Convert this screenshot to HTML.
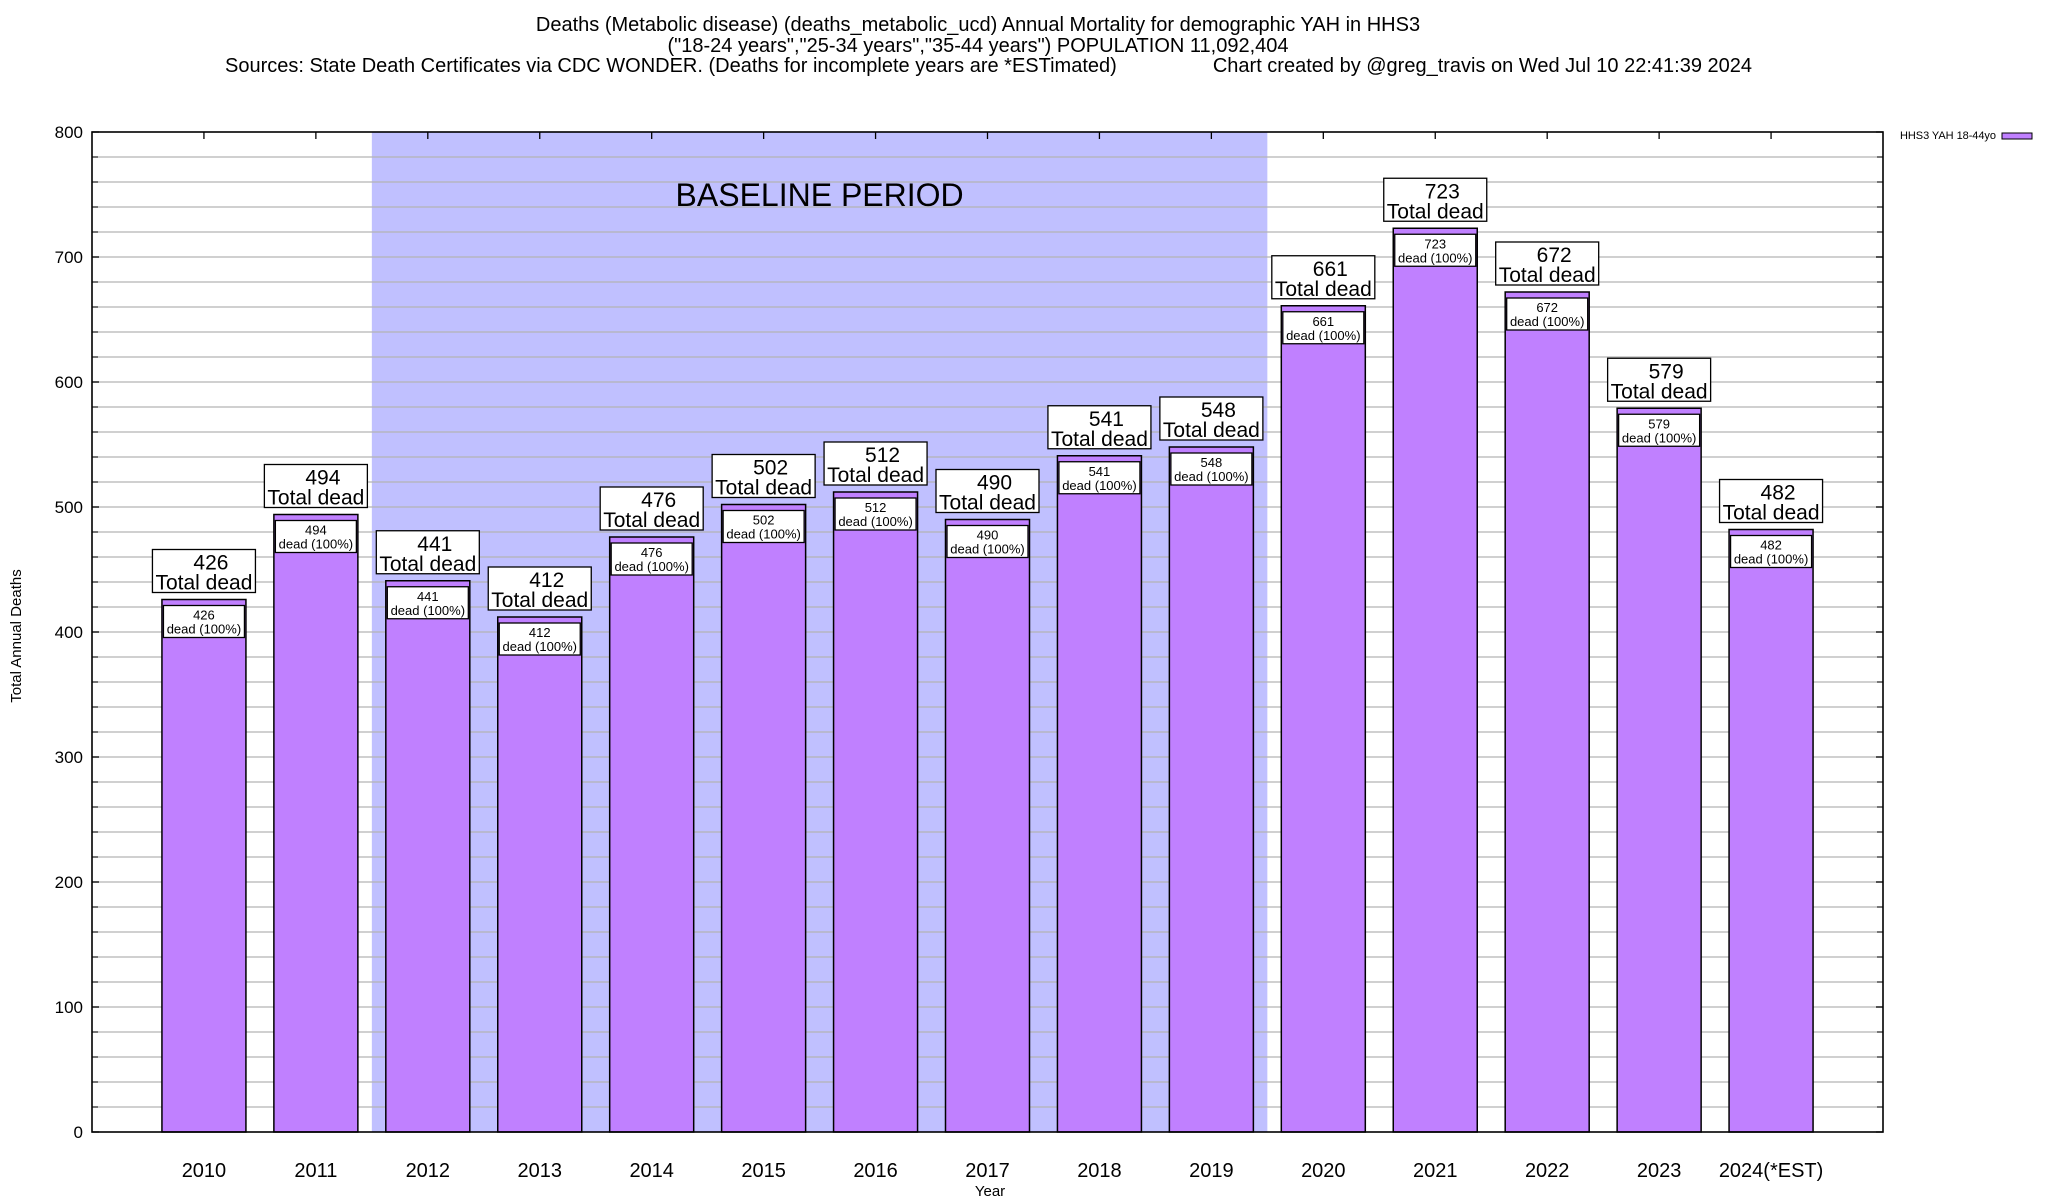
<!DOCTYPE html>
<html><head><meta charset="utf-8"><style>
html,body{margin:0;padding:0;background:#fff;}
svg{display:block;font-family:"Liberation Sans",Arial,sans-serif;}
</style></head><body>
<svg id="chart" width="2048" height="1200" viewBox="0 0 2048 1200" xmlns="http://www.w3.org/2000/svg">
<text x="978" y="31" font-size="20" text-anchor="middle">Deaths (Metabolic disease) (deaths_metabolic_ucd) Annual Mortality for demographic YAH in HHS3</text>
<text x="978" y="52" font-size="20" text-anchor="middle">("18-24 years","25-34 years","35-44 years") POPULATION 11,092,404</text>
<text x="225" y="72" font-size="20">Sources: State Death Certificates via CDC WONDER. (Deaths for incomplete years are *ESTimated)</text>
<text x="1752" y="72" font-size="20" text-anchor="end">Chart created by @greg_travis on Wed Jul 10 22:41:39 2024</text>
<g id="plot"></g>
<text transform="translate(21,636) rotate(-90)" font-size="15" text-anchor="middle">Total Annual Deaths</text>
<text x="990" y="1196" font-size="15" text-anchor="middle">Year</text>
<g>
<text x="1900" y="139" font-size="11" textLength="96">HHS3 YAH 18-44yo</text>
<rect x="2002" y="133" width="30" height="6" fill="#c080ff" stroke="#000" stroke-width="1"/>
</g>
</svg>
<script>
const categories = ["2010","2011","2012","2013","2014","2015","2016","2017","2018","2019","2020","2021","2022","2023","2024(*EST)"];
const values = [426,494,441,412,476,502,512,490,541,548,661,723,672,579,482];
const yTicks = [0,100,200,300,400,500,600,700,800];
const baselineStart = 2;
const baselineEnd = 9;

const NS = "http://www.w3.org/2000/svg";
const L = 92, R = 1883, T = 132, B = 1132;
const yMax = 800;
const xStep = (R - L) / (categories.length + 1);
function xPos(i){ return L + (i + 1) * xStep; }
function yPos(v){ return B - (v / yMax) * (B - T); }
const plot = document.getElementById('plot');
function mk(tag, attrs, parent){
  const e = document.createElementNS(NS, tag);
  for (const k in attrs) e.setAttribute(k, attrs[k]);
  (parent || plot).appendChild(e);
  return e;
}
const band = mk('rect', {x: xPos(baselineStart) - xStep/2, y: T, width: (baselineEnd - baselineStart + 1) * xStep, height: B - T, fill: '#c0c0ff'});


const bt = mk('text', {x: (xPos(baselineStart) - xStep/2 + xPos(baselineEnd) + xStep/2)/2, y: 206, 'font-size': 32, 'text-anchor': 'middle'});
bt.textContent = 'BASELINE PERIOD';


for (let v = 20; v < yMax; v += 20) {
  const g = mk('line', {x1: L, x2: R, y1: yPos(v), y2: yPos(v), stroke: '#b4b4b4', 'stroke-width': 1.3});
  
  
  mk('line', {x1: L, x2: L + 6, y1: yPos(v), y2: yPos(v), stroke: '#000', 'stroke-width': 1});
  mk('line', {x1: R - 6, x2: R, y1: yPos(v), y2: yPos(v), stroke: '#000', 'stroke-width': 1});
}
yTicks.forEach(v => {
  const t = mk('text', {x: 83, y: yPos(v) + 6, 'font-size': 17, 'text-anchor': 'end'});
  t.textContent = v;
  
  
  mk('line', {x1: L, x2: L + 7, y1: yPos(v), y2: yPos(v), stroke: '#000', 'stroke-width': 1.3});
  mk('line', {x1: R - 7, x2: R, y1: yPos(v), y2: yPos(v), stroke: '#000', 'stroke-width': 1.3});
});
const bw = 84;
categories.forEach((c, i) => {
  const cx = xPos(i), v = values[i], top = yPos(v);
  mk('line', {x1: cx, x2: cx, y1: T, y2: T + 7, stroke: '#000', 'stroke-width': 1.3});
  const bar = mk('rect', {x: cx - bw/2, y: top, width: bw, height: B - top, fill: '#c080ff', stroke: '#000', 'stroke-width': 1.5});
  
  
  const ib = mk('rect', {x: cx - 40.5, y: top + 6, width: 81, height: 32, fill: '#fff', stroke: '#000', 'stroke-width': 1.3});
  
  
  const t1 = mk('text', {x: cx, y: top + 20, 'font-size': 13, 'text-anchor': 'middle'});
  t1.textContent = v;
  
  
  const t2 = mk('text', {x: cx, y: top + 34, 'font-size': 13, 'text-anchor': 'middle'});
  t2.textContent = 'dead (100%)';
  
  
  const ob = mk('rect', {x: cx - 51.5, y: top - 50, width: 103, height: 43, fill: '#fff', stroke: '#000', 'stroke-width': 1.3});
  
  
  const t3 = mk('text', {x: cx + 7, y: top - 30, 'font-size': 21, 'text-anchor': 'middle'});
  t3.textContent = v;
  
  
  const t4 = mk('text', {x: cx, y: top - 10, 'font-size': 21, 'text-anchor': 'middle'});
  t4.textContent = 'Total dead';
  
  
  const xl = mk('text', {x: cx, y: 1177, 'font-size': 20, 'text-anchor': 'middle'});
  xl.textContent = c;
  
  
});
const frame = mk('rect', {x: L, y: T, width: R - L, height: B - T, fill: 'none', stroke: '#000', 'stroke-width': 1.6});


</script>
</body></html>
